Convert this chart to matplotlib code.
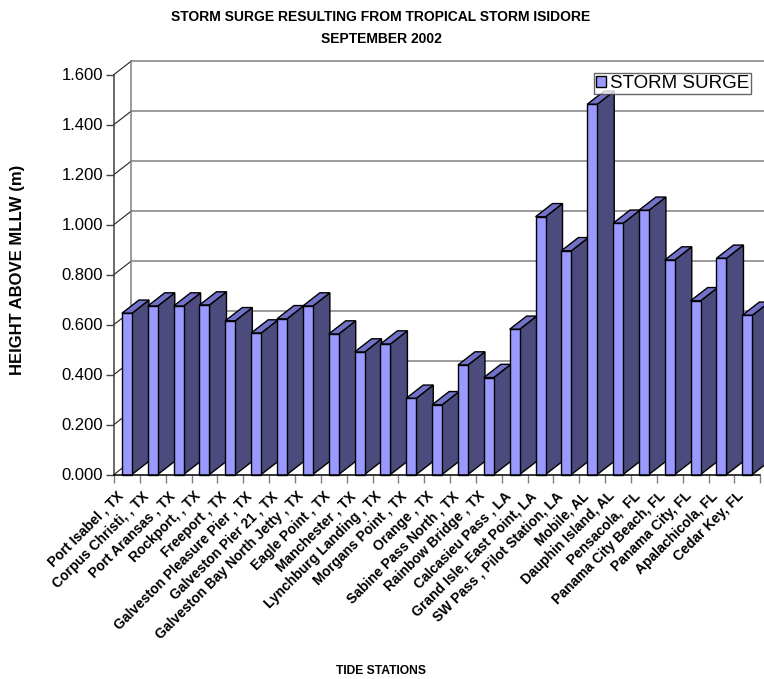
import matplotlib
matplotlib.use("Agg")
import matplotlib.pyplot as plt
from matplotlib.patches import Polygon, Rectangle
from matplotlib.lines import Line2D
from matplotlib.transforms import ScaledTranslation

plt.rcParams['font.family'] = ['Liberation Sans', 'DejaVu Sans']

stations = [
    "Port Isabel , TX", "Corpus Christi, , TX", "Port Aransas , TX", "Rockport, , TX",
    "Freeport , TX", "Galveston Pleasure Pier , TX", "Galveston Pier 21 , TX",
    "Galveston Bay North Jetty , TX", "Eagle Point , TX", "Manchester , TX",
    "Lynchburg Landing , TX", "Morgans Point , TX", "Orange , TX",
    "Sabine Pass North , TX", "Rainbow Bridge , TX", "Calcasieu Pass , LA",
    "Grand Isle, East Point, LA", "SW Pass , Pilot Station, LA", "Mobile, AL",
    "Dauphin Island, AL", "Pensacola,  FL", "Panama City Beach, FL",
    "Panama City, FL", "Apalachicola, FL", "Cedar Key, FL",
]
surge_m = [
    0.645, 0.674, 0.674, 0.678, 0.615, 0.566, 0.623, 0.674, 0.562, 0.490,
    0.522, 0.305, 0.279, 0.438, 0.388, 0.581, 1.031, 0.895, 1.481, 1.005,
    1.057, 0.858, 0.695, 0.865, 0.637,
]
y_ticks = [0.0, 0.2, 0.4, 0.6, 0.8, 1.0, 1.2, 1.4, 1.6]

FRONT = "#9999FF"
SIDE = "#4B4B7E"
TOP = "#7272C8"

W, H, DPI = 764, 679, 100
fig = plt.figure(figsize=(W / DPI, H / DPI), dpi=DPI)

# plot area in pixels
px_left, px_base = 114, 474.5
slot_px = 25.85
unit_px = 250.0
ax_w_px = W - px_left
ylim_top = 1.75
ax = fig.add_axes([px_left / W, (H - px_base) / H, ax_w_px / W, ylim_top * unit_px / H])
x0 = -0.5
ax.set_xlim(x0, x0 + ax_w_px / slot_px)
ax.set_ylim(0, ylim_top)
ax.patch.set_visible(False)

# 3-D depth offsets in data units
ddx = 17.0 / slot_px
ddy = 13.2 / unit_px
n = len(stations)
x_end = n - 0.5

# back wall gridlines and left wall slants
for v in y_ticks:
    ax.add_line(Line2D([x0 + ddx, x_end + ddx + 2], [v + ddy, v + ddy],
                       color="#808080", lw=1.1, zorder=1, clip_on=False))
    ax.add_line(Line2D([x0, x0 + ddx], [v, v + ddy], color="#202020",
                       lw=0.8, zorder=1, clip_on=False))
ax.add_line(Line2D([x0 + ddx, x0 + ddx], [ddy, y_ticks[-1] + ddy],
                   color="#808080", lw=1.1, zorder=1, clip_on=False))

# bars
bw = 10.0 / slot_px
for i, v in enumerate(surge_m):
    xl, xr = i - bw / 2, i + bw / 2
    z = 3 + i * 0.01
    side = Polygon([(xr, 0), (xr + ddx, ddy), (xr + ddx, v + ddy), (xr, v)],
                   closed=True, facecolor=SIDE, edgecolor="black", lw=1.0,
                   zorder=z, clip_on=False)
    top = Polygon([(xl, v), (xr, v), (xr + ddx, v + ddy), (xl + ddx, v + ddy)],
                  closed=True, facecolor=TOP, edgecolor="black", lw=1.0,
                  zorder=z, clip_on=False)
    front = Rectangle((xl, 0), bw, v, facecolor=FRONT, edgecolor="black",
                      lw=1.0, zorder=z + 0.001, clip_on=False)
    for p in (side, top, front):
        ax.add_patch(p)

# axes lines
for s in ("top", "right"):
    ax.spines[s].set_visible(False)
ax.spines["left"].set_bounds(0, y_ticks[-1])
ax.spines["left"].set_color("#404040")
ax.spines["left"].set_linewidth(1.1)
ax.spines["bottom"].set_bounds(x0, x_end)
ax.spines["bottom"].set_linewidth(1.1)
ax.spines["bottom"].set_zorder(10)

ax.set_yticks(y_ticks)
ax.set_yticklabels([f"{t:.3f}" for t in y_ticks], fontsize=12)
ax.tick_params(axis="y", direction="out", length=6, width=1.0, color="#404040", pad=2)

ax.set_xticks(range(n))
ax.set_xticklabels(stations, rotation=45, ha="right", va="center",
                   rotation_mode="anchor", fontsize=10, fontweight="bold")
ax.set_xticks([i - 0.5 for i in range(n + 1)], minor=True)
ax.tick_params(axis="x", which="major", length=0, pad=9)
ax.tick_params(axis="x", which="minor", direction="out", length=6, width=1.0,
               color="#808080")
shift = ScaledTranslation(-6 / DPI, -7 / DPI, fig.dpi_scale_trans)
for lab in ax.get_xticklabels():
    lab.set_transform(lab.get_transform() + shift)

fig.text(0.4987, 1 - 17 / H, "STORM SURGE RESULTING FROM TROPICAL STORM ISIDORE",
         ha="center", va="center", fontsize=10, fontweight="bold")
fig.text(0.4987, 1 - 39 / H, "SEPTEMBER 2002", ha="center", va="center",
         fontsize=10, fontweight="bold")
fig.text(18 / W, 1 - 270 / H, "HEIGHT ABOVE MLLW (m)", rotation=90,
         ha="center", va="center", fontsize=12, fontweight="bold")
fig.text(381 / W, 1 - 671 / H, "TIDE STATIONS", ha="center", va="center",
         fontsize=8.7, fontweight="bold")

# legend
leg = ax.legend(handles=[Rectangle((0, 0), 1, 1, facecolor=FRONT, edgecolor="black", lw=1.0)],
                labels=["STORM SURGE"], loc="upper left",
                bbox_to_anchor=((594 - px_left) / ax_w_px, (px_base - 73) / (ylim_top * unit_px)),
                frameon=True, fancybox=False, fontsize=13.5, handlelength=0.55,
                handleheight=0.55, handletextpad=0.2, borderpad=0.1,
                borderaxespad=0)
leg.get_frame().set_edgecolor("#404040")
leg.get_frame().set_linewidth(1.0)
leg.set_zorder(20)

fig.savefig("out.png", dpi=DPI)
